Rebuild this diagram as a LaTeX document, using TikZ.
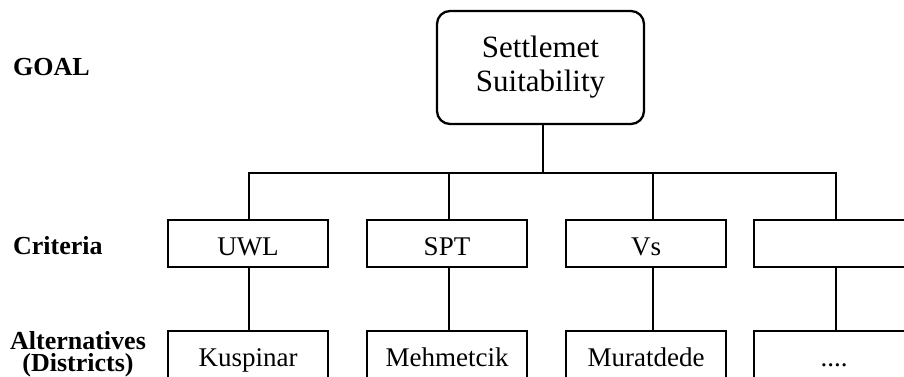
\documentclass[tikz,border=0pt]{standalone}
\usepackage{fontspec}
\setmainfont{Liberation Serif}
\usepackage{tikz}

\begin{document}
\begin{tikzpicture}[x=1pt,y=-1pt,line width=2.3pt,
    goalbox/.style={draw,rounded corners=13pt,minimum width=207pt,minimum height=113pt,align=center,font=\fontsize{31}{34}\selectfont},
    critbox/.style={draw,minimum width=160pt,minimum height=47pt,inner sep=0pt,text height=23pt,text depth=0pt,font=\fontsize{27}{30}\selectfont},
    level/.style={inner sep=0pt,align=center,font=\fontsize{26}{22}\selectfont\bfseries}]
        \useasboundingbox (0,0) rectangle (904,377);
        \node[level,anchor=west] (lgoal) at (12,67) {GOAL};
        \node[level,anchor=west] (lcrit) at (12,246) {Criteria};
        \node[level] (lalt) at (78,354) {Alternatives\\(Districts)};
        \node[goalbox] (goal) at (540.5,67.5) {Settlemet\\Suitability};
        \node[critbox] (uwl) at (248,243.5) {UWL};
        \node[critbox] (spt) at (447,243.5) {SPT};
        \node[critbox] (vs) at (646,243.5) {Vs};
        \node[critbox] (c4) at (834,243.5) {};
        \node[critbox] (kus) at (248,354.5) {Kuspinar};
        \node[critbox] (meh) at (447,354.5) {Mehmetcik};
        \node[critbox] (mur) at (646,354.5) {Muratdede};
        \node[critbox] (a4) at (834,354.5) {....};
        \coordinate (j0) at (543,173);
        \coordinate (j1) at (249,173);
        \coordinate (j2) at (449,173);
        \coordinate (j3) at (653,173);
        \coordinate (j4) at (836,173);
        \draw (goal.south -| j0) -- (j0);
        \draw (j1 |- uwl.north) -- (j1) -- (j4) -- (j4 |- c4.north);
        \draw (j2) -- (j2 |- spt.north);
        \draw (j3) -- (j3 |- vs.north);
        \draw (uwl.south -| j1) -- (j1 |- kus.north);
        \draw (spt.south -| j2) -- (j2 |- meh.north);
        \draw (vs.south -| j3) -- (j3 |- mur.north);
        \draw (c4.south -| j4) -- (j4 |- a4.north);
    \end{tikzpicture}
\end{document}
